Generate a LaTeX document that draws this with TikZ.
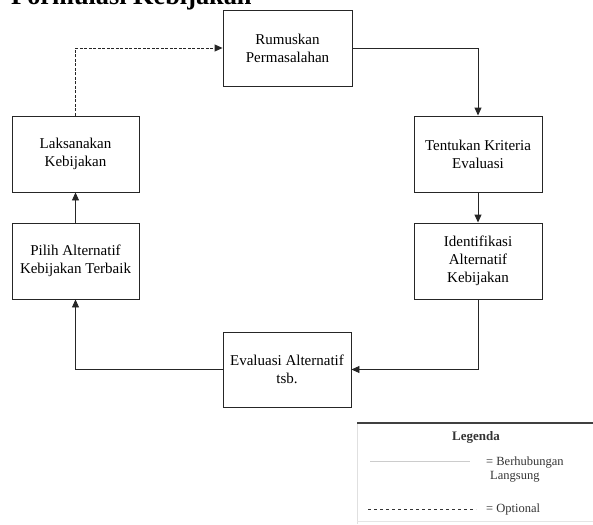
\documentclass[tikz,border=0pt]{standalone}
\usepackage{fontspec}
\setmainfont{Liberation Serif}
\usetikzlibrary{arrows.meta}
\begin{document}
\begin{tikzpicture}[x=1pt,y=-1pt,
  stepbox/.style={draw=black!85,line width=0.9pt,minimum width=128pt,minimum height=76pt,
    align=center,inner sep=0pt,font=\fontsize{15}{18}\selectfont},
  conn/.style={draw=black!85,line width=0.9pt,-{Triangle[length=8pt,width=7pt]}},
  opt/.style={conn,dashed,dash pattern=on 3pt off 1.5pt},
  legtext/.style={text=black!80,font=\fontsize{12.5}{13}\selectfont,inner sep=0pt}]
\useasboundingbox (0,0) rectangle (593,524);
\node[anchor=base west,inner sep=0pt,font=\bfseries\fontsize{26.3}{30}\selectfont] (title) at (11,5) {Formulasi Kebijakan};
\node[stepbox,minimum width=129pt] (rum) at (287.5,48) {Rumuskan\\Permasalahan};
\node[stepbox,minimum width=127pt] (lak) at (75.5,154) {Laksanakan\\Kebijakan};
\node[stepbox,minimum width=127pt] (pil) at (75.5,261) {Pilih Alternatif\\Kebijakan Terbaik};
\node[stepbox] (ten) at (478,154) {Tentukan Kriteria\\Evaluasi};
\node[stepbox] (ide) at (478,261) {Identifikasi\\Alternatif\\Kebijakan};
\node[stepbox,minimum height=75pt] (eva) at (287,369.5) {Evaluasi Alternatif\\tsb.};
\draw[opt] (lak.north) |- (rum.west);
\draw[conn] (rum.east) -| (ten.north);
\draw[conn] (ten.south) -- (ide.north);
\draw[conn] (ide.south) |- (eva.east);
\draw[conn] (eva.west) -| (pil.south);
\draw[conn] (pil.north) -- (lak.south);
% legend
\draw[black!12,line width=0.8pt] (357,423) -- (357,524);
\draw[black!10,line width=0.6pt] (357,521) -- (593,521);
\draw[black!75,line width=1.5pt] (357,423) -- (593,423);
\node[legtext,font=\bfseries\fontsize{13}{13}\selectfont] (leg) at (476,437) {Legenda};
\coordinate (l1a) at (370,461);
\coordinate (l1b) at (470,461);
\draw[black!20,line width=1pt] (l1a) -- (l1b);
\node[legtext,anchor=west,align=left,font=\fontsize{12.5}{14}\selectfont] (l1t) at (486,470) {= Berhubungan\\\hspace*{4pt}Langsung};
\coordinate (l2a) at (368,509);
\coordinate (l2b) at (476,509);
\draw[black!80,line width=0.8pt,dash pattern=on 3pt off 3pt] (l2a) -- (l2b);
\node[legtext,anchor=west] (l2t) at (486,509) {= Optional};
\end{tikzpicture}
\end{document}
